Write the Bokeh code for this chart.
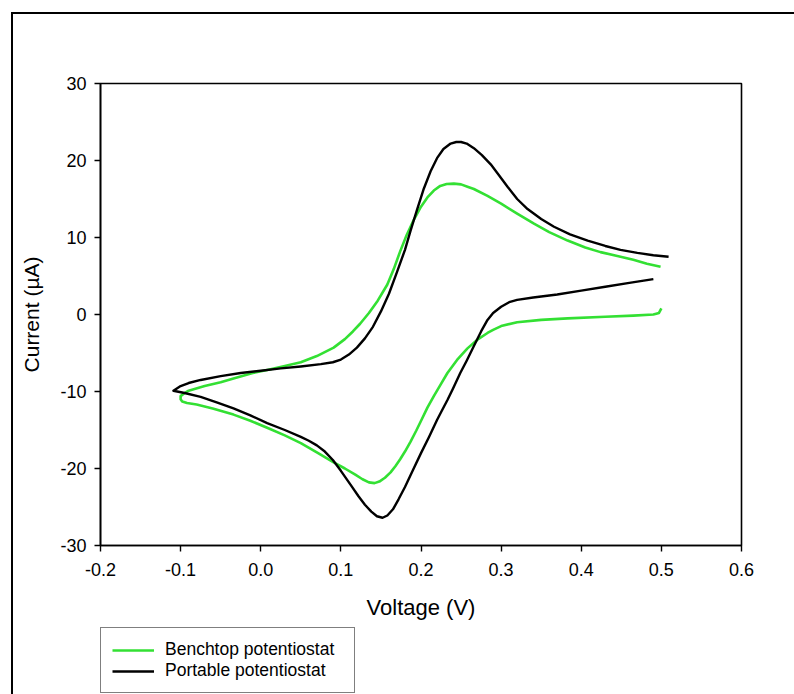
from bokeh.plotting import figure
from bokeh.layouts import column
from bokeh.models import Range1d, FixedTicker, CustomJSTickFormatter, Legend, LegendItem
from bokeh.embed import file_html
from bokeh.resources import INLINE

# ---------------- data ----------------
portable_v = [0.49, 0.46, 0.43, 0.40, 0.37, 0.34, 0.32, 0.31, 0.30, 0.29, 0.283, 0.275,
              0.266, 0.257, 0.249, 0.24, 0.233, 0.225, 0.22, 0.21, 0.20, 0.19, 0.18,
              0.172, 0.165, 0.158, 0.152, 0.145, 0.138, 0.13, 0.122, 0.112, 0.10,
              0.09, 0.08, 0.07, 0.06, 0.05, 0.03, 0.008, -0.013, -0.034, -0.055,
              -0.075, -0.095, -0.109,
              -0.10, -0.09, -0.075, -0.05, -0.025, 0.0, 0.025, 0.05, 0.075, 0.09, 0.10,
              0.11, 0.12, 0.13, 0.14, 0.15, 0.16, 0.17, 0.18, 0.187, 0.195, 0.203,
              0.212, 0.22, 0.228, 0.237, 0.244, 0.25, 0.257, 0.266, 0.276, 0.287,
              0.298, 0.308, 0.32, 0.333, 0.35, 0.366, 0.386, 0.408, 0.43, 0.449,
              0.47, 0.49, 0.509]
portable_i = [4.6, 4.1, 3.6, 3.1, 2.6, 2.2, 1.9, 1.6, 1.0, 0.2, -0.7, -2.2,
              -4.1, -6.0, -7.6, -9.6, -11.1, -12.7, -13.7, -15.9, -18.0, -20.2, -22.4,
              -24.0, -25.3, -26.1, -26.4, -26.2, -25.6, -24.7, -23.6, -22.1, -20.3,
              -18.9, -17.8, -17.0, -16.4, -15.9, -15.0, -14.1, -13.1, -12.2, -11.4,
              -10.7, -10.2, -9.9,
              -9.3, -8.9, -8.5, -8.0, -7.6, -7.3, -7.0, -6.75, -6.45, -6.2, -5.85,
              -5.2, -4.3, -3.1, -1.6, 0.4, 2.7, 5.5, 8.4, 10.9, 13.6, 16.2,
              18.6, 20.3, 21.5, 22.2, 22.4, 22.4, 22.2, 21.6, 20.7, 19.5,
              18.0, 16.6, 15.0, 13.7, 12.4, 11.4, 10.4, 9.6, 8.9, 8.4,
              8.0, 7.7, 7.5]

benchtop_v = [0.5, 0.497, 0.49, 0.465, 0.43, 0.383, 0.35, 0.32, 0.30, 0.29, 0.283,
              0.27, 0.258, 0.245, 0.233, 0.225, 0.216, 0.208, 0.201, 0.194, 0.187,
              0.18, 0.174, 0.168, 0.162, 0.155, 0.148, 0.142, 0.135, 0.127, 0.118,
              0.105, 0.091, 0.07, 0.05, 0.03, 0.008, -0.013, -0.034, -0.06, -0.08,
              -0.092, -0.098, -0.10, -0.10,
              -0.095, -0.09, -0.07, -0.05, -0.034, -0.01, 0.008, 0.03, 0.05, 0.07,
              0.091, 0.105, 0.115, 0.124, 0.135, 0.146, 0.158, 0.166, 0.174, 0.182,
              0.191, 0.20, 0.208, 0.216, 0.224, 0.232, 0.241, 0.25, 0.258, 0.266,
              0.283, 0.30, 0.32, 0.341, 0.36, 0.383, 0.405, 0.424, 0.445, 0.465,
              0.482, 0.499]
benchtop_i = [0.8, 0.2, 0.0, -0.15, -0.3, -0.5, -0.7, -1.0, -1.5, -2.0, -2.4,
              -3.3, -4.4, -5.9, -7.6, -9.0, -10.6, -12.1, -13.6, -15.1, -16.5,
              -17.8, -18.8, -19.7, -20.5, -21.2, -21.7, -21.9, -21.8, -21.4, -20.8,
              -20.0, -19.2, -17.9, -16.7, -15.7, -14.7, -13.8, -13.0, -12.2, -11.7,
              -11.5, -11.3, -11.0, -10.6,
              -10.2, -9.9, -9.3, -8.8, -8.3, -7.6, -7.2, -6.7, -6.2, -5.4,
              -4.3, -3.2, -2.2, -1.2, 0.2, 1.8, 3.9, 5.9, 8.2, 10.3,
              12.3, 14.0, 15.2, 16.1, 16.7, 16.95, 17.0, 16.9, 16.6, 16.3,
              15.4, 14.4, 13.1, 11.8, 10.7, 9.6, 8.7, 8.1, 7.6, 7.1,
              6.6, 6.2]

x_ticks = [-0.2, -0.1, 0.0, 0.1, 0.2, 0.3, 0.4, 0.5, 0.6]
y_ticks = [-30, -20, -10, 0, 10, 20, 30]
series_names = ["Benchtop potentiostat", "Portable potentiostat"]
series_colors = ["#33e033", "#000000"]
x_title = "Voltage (V)"
y_title = "Current (\u00b5A)"

FONT = "Liberation Sans"

# ---------------- main chart ----------------
p = figure(width=781, height=612, output_backend="svg", toolbar_location=None,
           x_range=Range1d(-0.2, 0.6), y_range=Range1d(-30, 30),
           min_border_left=87, min_border_right=53, min_border_top=69,
           min_border_bottom=81)
p.background_fill_color = "white"
p.border_fill_color = "white"
p.outline_line_color = "black"
p.outline_line_width = 1.6
p.xgrid.visible = False
p.ygrid.visible = False

for ax in (p.xaxis[0], p.yaxis[0]):
    ax.axis_line_color = "black"
    ax.axis_line_width = 1.6
    ax.major_tick_line_color = "black"
    ax.major_tick_line_width = 1.4
    ax.major_tick_out = 6
    ax.major_tick_in = 0
    ax.minor_tick_line_color = None
    ax.major_label_text_font = FONT
    ax.major_label_text_font_size = "18px"
    ax.major_label_text_color = "black"
    ax.axis_label_text_font = FONT
    ax.axis_label_text_font_style = "normal"
    ax.axis_label_text_color = "black"

p.xaxis[0].major_label_standoff = 11
p.yaxis[0].major_label_standoff = 8
p.xaxis[0].ticker = FixedTicker(ticks=x_ticks)
p.yaxis[0].ticker = FixedTicker(ticks=y_ticks)
p.xaxis[0].formatter = CustomJSTickFormatter(code="return tick.toFixed(1);")
p.yaxis[0].formatter = CustomJSTickFormatter(code="return tick.toFixed(0);")
p.xaxis[0].axis_label = x_title
p.yaxis[0].axis_label = y_title
p.xaxis[0].axis_label_text_font_size = "22px"
p.yaxis[0].axis_label_text_font_size = "21px"
p.xaxis[0].axis_label_standoff = 16
p.yaxis[0].axis_label_standoff = 14

p.line(benchtop_v, benchtop_i, line_color=series_colors[0], line_width=2.6,
       line_join="round")
p.line(portable_v, portable_i, line_color=series_colors[1], line_width=2.4,
       line_join="round")

# ---------------- legend strip below the chart ----------------
lg = figure(width=781, height=68, output_backend="svg", toolbar_location=None,
            x_axis_location=None, y_axis_location=None, min_border=0,
            x_range=Range1d(0, 1), y_range=Range1d(0, 1))
lg.outline_line_color = None
lg.xgrid.visible = False
lg.ygrid.visible = False
lg.background_fill_color = "white"
lg.border_fill_color = "white"
# legend-only renderers, placed outside the visible range
d_bench = lg.line([5, 6], [5, 6], line_color=series_colors[0], line_width=2.6)
d_port = lg.line([5, 6], [5, 6], line_color=series_colors[1], line_width=2.4)

legend = Legend(items=[LegendItem(label=series_names[0], renderers=[d_bench]),
                       LegendItem(label=series_names[1], renderers=[d_port])],
                location=(0, 1), orientation="vertical")
legend.margin = 0
legend.padding = 11
legend.spacing = 0
legend.glyph_width = 42
legend.glyph_height = 20
legend.label_height = 20
legend.label_width = 178
legend.label_standoff = 11
legend.label_text_font = FONT
legend.label_text_font_size = "17.5px"
legend.label_text_color = "black"
legend.border_line_color = "black"
legend.border_line_width = 1.5
legend.background_fill_color = "white"
legend.background_fill_alpha = 1.0
lg.add_layout(legend, "center")

page = column(p, lg, spacing=0)
page.margin = (12, 0, 0, 11)
page.styles = {"border-top": "2px solid black", "border-left": "2px solid black"}

open("out.html", "w").write(file_html(page, INLINE))
